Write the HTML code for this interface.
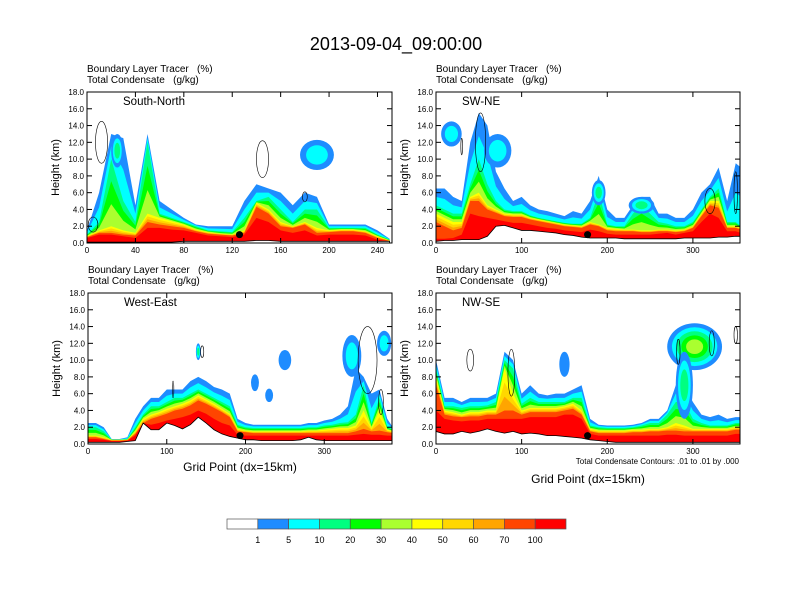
<!DOCTYPE html>
<html><head><meta charset="utf-8"><style>
body{margin:0;background:#fff}
svg{display:block;font-family:"Liberation Sans",sans-serif}
svg text{white-space:pre}
</style></head><body>
<svg id="c" width="792" height="612" viewBox="0 0 792 612">
<text x="396" y="50" font-size="18" text-anchor="middle">2013-09-04_09:00:00</text>
</svg>
<script>
// ---- Panel 1: South-North ----
const p1X=[0,10,20,30,40,50,60,70,80,90,100,110,120,130,140,150,160,170,180,190,200,210,220,230,240,250];
const p1H1=[1.5,6,13,12.5,4.5,13,5,4,3,2.2,2,2,2,5,7,6.5,6,4.5,6,5.5,2.2,2.2,2.2,2.2,1.5,0.5];
const p1H10=[1,2.5,10,5,2.5,12,3.5,3,2.5,2,1.5,1.4,1.3,3,5,5.5,4,2.5,4,4,1.8,1.8,1.8,1.8,1,0.4];
const p1H40=[0.8,1.5,2,1.5,1.2,3.5,3,2.6,2.2,1.6,1.3,1.1,1,1.5,4.8,4,2.5,2,2.5,1.8,1.5,1.6,1.6,1.4,0.8,0.3];
const p1H70=[0.7,1.2,1.2,1,0.9,2.5,2.2,2,1.8,1.4,1.1,1,0.9,1.2,4.3,3.5,2,1.8,2.2,1.2,1.3,1.4,1.4,1.2,0.6,0.25];
const p1H100=[0.6,1,1,0.8,0.6,1.8,1.8,1.6,1.5,1.2,0.9,0.8,0.7,1,3,2.5,1.5,1.2,1.5,0.9,1,1,1,0.9,0.4,0.2];
const p1G=[0.1,0.1,0.1,0.1,0.1,0.1,0.1,0.1,0.2,0.2,0.2,0.2,0.2,0.2,0.3,0.3,0.2,0.2,0.2,0.2,0.2,0.2,0.2,0.2,0.2,0.2];
const p1BlobX=[190,25],p1BlobY=[10.5,11],p1BlobRX=[14,5],p1BlobRY=[1.8,2],p1BlobL=[2,3];
const p1CX=[12,145,5,180],p1CY=[12,10,2.2,5.5],p1CRX=[5,5,4,2],p1CRY=[2.5,2.2,0.9,0.6];
// ---- Panel 2: SW-NE ----
const p2X=[0,10,20,30,40,50,60,70,80,90,100,110,120,130,140,150,160,170,180,190,200,210,220,230,240,250,260,270,280,290,300,310,320,330,340,350,356];
const p2H1=[6.5,6.5,5.5,5,12,15.5,14,8.5,6.5,5,5.5,4.5,4,3.8,3.5,3.2,3.8,3.5,5,8,4,3,3,4.5,5.5,5.5,3.5,3.5,3,3,4,6,7,9,5,9.5,9];
const p2H10=[4.5,4,3.5,3.5,7,10,7,5,4,3.8,3.8,3.3,3,2.8,2.6,2.4,2.3,2.3,3,6,2.2,2,2,3.5,4.5,3.5,2.5,2.3,2,2,2.5,4,5.5,6.5,2.5,2.5,2];
const p2H40=[3.5,3,2.5,2.5,5.5,6,4.5,4,3.5,3.4,3.4,3,2.8,2.6,2.4,2.2,2.1,2,2.5,2.2,1.8,1.7,1.6,1.6,1.5,1.5,1.6,1.6,1.5,1.6,2,3.5,5,5,2,2,1.8];
const p2H70=[2.5,2,1.5,1.8,5,5,4,3.6,3.2,3.1,3.1,2.8,2.6,2.4,2.2,2,1.9,1.8,2.2,2,1.5,1.4,1.4,1.4,1.3,1.3,1.4,1.4,1.3,1.4,1.8,3.2,4.5,4.2,1.8,1.8,1.6];
const p2H100=[0.5,0.5,0.6,1,3.5,3.2,3,2.8,2.6,2.4,2.4,2.2,2,1.8,1.7,1.5,1.4,1.3,1.6,1.4,1.1,1,1,1,1,1,1.1,1.2,1,1.2,1.4,2.5,3.5,3,1.4,1.4,1.2];
const p2G=[0.2,0.3,0.3,0.4,0.4,0.4,0.8,2,2.1,1.8,1.5,1.5,1.4,1.3,1.2,1,0.9,0.7,0.6,0.6,0.6,0.6,0.5,0.5,0.5,0.5,0.5,0.5,0.5,0.6,0.6,0.6,0.6,0.7,0.7,0.8,0.8];
const p2BlobX=[18,72,190,240],p2BlobY=[13,11,6,4.5],p2BlobRX=[12,16,8,15],p2BlobRY=[1.5,2,1.5,1],p2BlobL=[2,2,3,3];
const p2CX=[52,30,320,350],p2CY=[12,11.5,5,6],p2CRX=[6,1,6,2],p2CRY=[3.5,1,1.5,2.5];
// ---- Panel 3: West-East ----
const p3X=[0,10,20,30,40,50,60,70,80,90,100,110,120,130,140,150,160,170,180,190,200,210,220,230,240,250,260,270,280,290,300,310,320,330,340,350,360,370,380,387];
const p3H1=[2.5,2.5,2,0.6,0.6,0.8,3,4.5,5.5,5.5,6.5,6.5,6.5,7.5,8,7.5,6.8,6.5,6,3,2.5,2.3,2.3,2.3,2.3,2.3,2.3,2.3,2.5,2.5,2.8,3,3.5,4.5,9,8,6,6.5,3,2];
const p3H10=[2,2,1.5,0.5,0.5,0.6,2,3.5,4.5,4.5,5,5.5,5.5,6,6.5,6,5.5,5,4.5,2.3,2,1.9,1.9,1.9,1.9,1.9,1.9,1.9,2,2,2.2,2.3,2.5,2.6,3.5,7,2.5,5.5,2,1.8];
const p3H40=[1,1,0.8,0.5,0.5,0.5,1.5,3,3.5,3.8,4.2,4.5,4.8,5.2,5.8,5.3,4.8,4.2,3.6,1.8,1.6,1.5,1.5,1.5,1.5,1.5,1.5,1.5,1.6,1.6,1.7,1.8,1.9,1.9,2.2,4,1.9,4,1.7,1.5];
const p3H70=[0.8,0.8,0.6,0.4,0.4,0.45,1.2,2.5,3,3.3,3.6,4,4.2,4.6,5.2,4.8,4.3,3.8,3.2,1.5,1.4,1.3,1.3,1.3,1.3,1.3,1.3,1.3,1.3,1.3,1.3,1.3,1.3,1.3,1.5,1.8,1.5,1.6,1.4,1.3];
const p3H100=[0.6,0.6,0.5,0.35,0.35,0.4,1,2,2.3,2.5,2.8,3,3.2,3.5,4,3.6,3,2.5,2.2,1.1,1,1,1,1,1,1,1,1,1,1,1,1,1,1,1.1,1.2,1.1,1.1,1,1];
const p3G=[0.2,0.2,0.2,0.2,0.2,0.3,0.4,2.5,1.7,1.7,2.5,2.2,1.8,2.3,3.2,2.5,1.7,1.2,0.9,0.7,0.5,0.5,0.4,0.4,0.4,0.4,0.4,0.5,0.8,0.5,0.4,0.4,0.4,0.4,0.4,0.4,0.4,0.4,0.4,0.4];
const p3BlobX=[335,376,250,212,230,140],p3BlobY=[10.5,12,10,7.3,5.8,11],p3BlobRX=[12,9,8,5,5,3],p3BlobRY=[2.5,1.5,1.2,1,0.8,1],p3BlobL=[2,2,1,1,1,3];
const p3CX=[355,372,108,145],p3CY=[10,5,6.5,11],p3CRX=[12,3,1,2],p3CRY=[4,1.5,1,0.7];
// ---- Panel 4: NW-SE ----
const p4X=[0,10,20,30,40,50,60,70,80,90,100,110,120,130,140,150,160,170,180,190,200,210,220,230,240,250,260,270,280,290,300,310,320,330,340,350,355];
const p4H1=[10,5.5,5.5,5,5.5,5.5,5.5,6,11,10,6,7,6,5.8,6,6,6.5,7,3,2.3,2.2,2.2,2.2,2.3,2.5,3,3,4,7,7,5,3.5,3.2,3.5,3,3.2,3.2];
const p4H10=[9,4.5,4.5,4.3,4.5,4.5,4.6,5,10,9,4.8,5.5,5,5,5,5,5.5,5.5,2.2,2,1.9,1.9,1.9,2,2.2,2.5,2.5,3.5,5,5,3,2.5,2.2,2.2,2.2,2.5,2.5];
const p4H40=[8,4,3.8,3.5,3.8,3.8,4,4,9,6,4,4.3,4.3,4.3,4.3,4.5,4.8,4,1.8,1.6,1.6,1.6,1.6,1.7,1.7,1.8,1.8,2,2.5,2.2,1.8,1.8,1.8,1.8,1.8,2,2];
const p4H70=[7,3.5,3.3,3.2,3.3,3.3,3.5,3.5,4,4,3.5,3.8,3.8,3.8,3.8,4,4.2,3.5,1.5,1.3,1.3,1.3,1.3,1.4,1.4,1.5,1.5,1.6,1.6,1.5,1.5,1.5,1.5,1.5,1.5,1.7,1.7];
const p4H100=[4,3,2.8,2.7,2.8,2.8,3,3,3,3,3,3.2,3.2,3.2,3.2,3.5,3.5,3,1.2,1,1,1,1,1,1,1,1,1.1,1.1,1,1,1,1,1,1,1.2,1.2];
const p4G=[1.5,1.2,1.2,1.5,1.3,1.5,1.8,1.5,1.3,1.5,1.2,1.3,1.2,1,1,0.9,0.8,0.7,0.5,0.4,0.3,0.2,0.2,0.2,0.2,0.2,0.2,0.2,0.2,0.2,0.2,0.2,0.2,0.2,0.2,0.2,0.2];
const p4BlobX=[302,290,150],p4BlobY=[11.6,7,9.5],p4BlobRX=[32,10,6],p4BlobRY=[2.8,4,1.5],p4BlobL=[5,3,1];
const p4CX=[40,88,322,350,283],p4CY=[10,8.5,12,13,11],p4CRX=[4,4,3,2,2],p4CRY=[1.3,2.8,1.5,1,1.5];

const COLORS=['#1e8cff','#00ffff','#00ff80','#00ff00','#aaff2f','#ffff00','#ffd700','#ffa500','#ff4500','#ff0000'];
const svg=document.getElementById('c');
const NS='http://www.w3.org/2000/svg';
function mk(tag,attrs,parent){const e=document.createElementNS(NS,tag);for(const k in attrs)e.setAttribute(k,attrs[k]);(parent||svg).appendChild(e);return e;}
const lerp=(a,b,t)=>a+(b-a)*t;

function panel(idx,cfg){
  const {L,R,T,B,xmax,name,xticks,xs,h1,h10,h40,h70,h100,g,bx,by,brx,bry,bl,cx,cy,crx,cry,dot}=cfg;
  const sx=v=>L+(v/xmax)*(R-L);
  const sy=v=>B-(v/18)*(B-T);
  const grp=mk('g',{});
  
  
  const clip=mk('clipPath',{id:'clip'+idx},grp);
  mk('rect',{x:L,y:T,width:R-L,height:B-T},clip);
  const area=mk('g',{'clip-path':'url(#clip'+idx+')'},grp);
  const tops=[
    h1, h1.map((v,i)=>lerp(v,h10[i],0.5)), h10,
    h10.map((v,i)=>lerp(v,h40[i],0.33)), h10.map((v,i)=>lerp(v,h40[i],0.67)), h40,
    h40.map((v,i)=>lerp(v,h70[i],0.33)), h40.map((v,i)=>lerp(v,h70[i],0.67)), h70, h100];
  tops.forEach((arr,li)=>{
    let pts=xs.map((x,i)=>sx(x)+','+sy(Math.max(arr[i],g[i]))).join(' ');
    pts+=' '+sx(xs[xs.length-1])+','+B+' '+sx(xs[0])+','+B;
    const p=mk('polygon',{points:pts,fill:COLORS[li]},area);
    
    
  });
  bx.forEach((x,i)=>{
    for(let k=0;k<bl[i];k++){
      const f=1-k/(bl[i]+0.8);
      const e=mk('ellipse',{cx:sx(x),cy:sy(by[i]),rx:(brx[i]*f)*(R-L)/xmax,ry:bry[i]*f*(B-T)/18,fill:COLORS[k]},area);
      
      
    }
  });
  let gp=xs.map((x,i)=>sx(x)+','+sy(g[i])).join(' ');
  const terr=mk('polygon',{points:gp+' '+sx(xs[xs.length-1])+','+B+' '+sx(xs[0])+','+B,fill:'#fff',stroke:'#000','stroke-width':0.8},area);
  
  
  cx.forEach((x,i)=>{
    const c=mk('ellipse',{cx:sx(x),cy:sy(cy[i]),rx:crx[i]*(R-L)/xmax,ry:cry[i]*(B-T)/18,fill:'none',stroke:'#000','stroke-width':0.6},area);
    
    
  });
  const d=mk('circle',{cx:sx(dot),cy:sy(1),r:3.5,fill:'#000'},grp);
  
  
  const fr=mk('rect',{x:L,y:T,width:R-L,height:B-T,fill:'none',stroke:'#000','stroke-width':1},grp);
  
  
  for(let v=0;v<=18;v+=2){
    const y=sy(v);
    mk('line',{x1:L,x2:L+5,y1:y,y2:y,stroke:'#000'},grp);
    mk('line',{x1:R,x2:R-5,y1:y,y2:y,stroke:'#000'},grp);
    const t=mk('text',{x:L-3,y:y+3,'font-size':8,'text-anchor':'end'},grp);
    t.textContent=v.toFixed(1);
    
    
  }
  xticks.forEach(v=>{
    const x=sx(v);
    mk('line',{x1:x,x2:x,y1:B,y2:B-5,stroke:'#000'},grp);
    mk('line',{x1:x,x2:x,y1:T,y2:T+5,stroke:'#000'},grp);
    const t=mk('text',{x:x,y:B+10,'font-size':8,'text-anchor':'middle'},grp);
    t.textContent=v;
    
    
  });
  const yl=mk('text',{x:0,y:0,'font-size':11,'text-anchor':'middle',transform:'translate('+(L-28)+','+((T+B)/2)+') rotate(-90)'},grp);
  yl.textContent='Height (km)';
  
  
  const s1=mk('text',{x:L,y:T-20,'font-size':10},grp);
  s1.textContent='Boundary Layer Tracer   (%)';
  
  
  const s2=mk('text',{x:L,y:T-9,'font-size':10},grp);
  s2.textContent='Total Condensate   (g/kg)';
  
  
  const nm=mk('text',{x:L+(idx%2?26:36),y:T+13,'font-size':11.5},grp);
  nm.textContent=name;
  
  
}

panel(0,{L:87,R:392,T:92,B:243,xmax:252,name:'South-North',xticks:[0,40,80,120,160,200,240],xs:p1X,h1:p1H1,h10:p1H10,h40:p1H40,h70:p1H70,h100:p1H100,g:p1G,bx:p1BlobX,by:p1BlobY,brx:p1BlobRX,bry:p1BlobRY,bl:p1BlobL,cx:p1CX,cy:p1CY,crx:p1CRX,cry:p1CRY,dot:126});
panel(1,{L:436,R:740,T:92,B:243,xmax:355,name:'SW-NE',xticks:[0,100,200,300],xs:p2X,h1:p2H1,h10:p2H10,h40:p2H40,h70:p2H70,h100:p2H100,g:p2G,bx:p2BlobX,by:p2BlobY,brx:p2BlobRX,bry:p2BlobRY,bl:p2BlobL,cx:p2CX,cy:p2CY,crx:p2CRX,cry:p2CRY,dot:177});
panel(2,{L:88,R:392,T:293,B:444,xmax:386,name:'West-East',xticks:[0,100,200,300],xs:p3X,h1:p3H1,h10:p3H10,h40:p3H40,h70:p3H70,h100:p3H100,g:p3G,bx:p3BlobX,by:p3BlobY,brx:p3BlobRX,bry:p3BlobRY,bl:p3BlobL,cx:p3CX,cy:p3CY,crx:p3CRX,cry:p3CRY,dot:193});
panel(3,{L:436,R:740,T:293,B:444,xmax:355,name:'NW-SE',xticks:[0,100,200,300],xs:p4X,h1:p4H1,h10:p4H10,h40:p4H40,h70:p4H70,h100:p4H100,g:p4G,bx:p4BlobX,by:p4BlobY,brx:p4BlobRX,bry:p4BlobRY,bl:p4BlobL,cx:p4CX,cy:p4CY,crx:p4CRX,cry:p4CRY,dot:177});

function txt(x,y,s,size,anchor,name){const t=mk('text',{x:x,y:y,'font-size':size,'text-anchor':anchor});t.textContent=s;
  
  }
txt(240,471,'Grid Point (dx=15km)',12,'middle','x-axis-title-west-east');
txt(588,483,'Grid Point (dx=15km)',12,'middle','x-axis-title-nw-se');
txt(739,464,'Total Condensate Contours: .01 to .01 by .000',8,'end','contour-info-note');

const cbLabels=['1','5','10','20','30','40','50','60','70','100'];
const cbFill=['#ffffff'].concat(COLORS);
const cbL=227,cbR=566,cbT=519,cbB=529,cw=(cbR-cbL)/cbFill.length;
cbFill.forEach((c,i)=>{
  const r=mk('rect',{x:cbL+i*cw,y:cbT,width:cw,height:cbB-cbT,fill:c,stroke:'#555','stroke-width':0.7});
  
  
});
cbLabels.forEach((s,i)=>{
  const t=mk('text',{x:cbL+(i+1)*cw,y:543,'font-size':9,'text-anchor':'middle'});
  t.textContent=s;
  
  
});
</script>
</body></html>
